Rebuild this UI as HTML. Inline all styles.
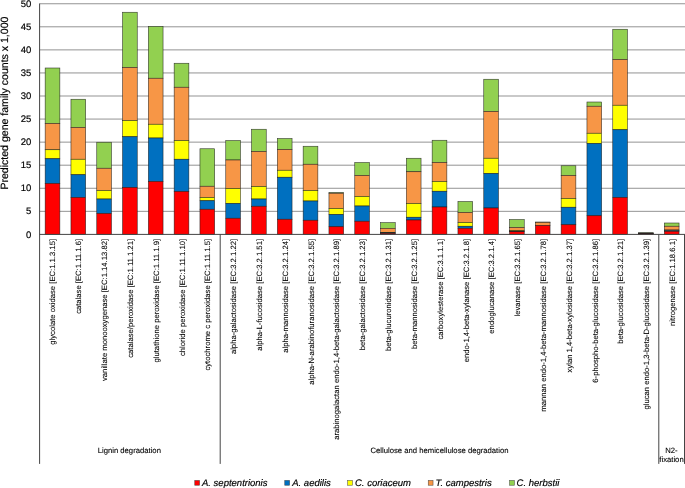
<!DOCTYPE html>
<html lang="en"><head><meta charset="utf-8"><title>Predicted gene family counts</title>
<style>html,body{margin:0;padding:0;background:#fff;}body{width:685px;height:488px;overflow:hidden;}svg{display:block;}text{text-rendering:geometricPrecision;stroke:#000;stroke-width:0.18px;font-family:"Liberation Sans",Arial,sans-serif;fill:#000;}.lab{font-size:7.68px;stroke-width:0.08px;}.tick{font-size:9.5px;}.leg{font-size:9.5px;font-style:italic;}.grp{font-size:7.7px;stroke-width:0.1px;}.ttl{font-size:10.56px;}</style></head><body>
<svg width="685" height="488" viewBox="0 0 685 488">
<rect width="685" height="488" fill="#fff"/>
<g stroke="#939393" stroke-width="1">
<line x1="39.6" x2="685" y1="211.34" y2="211.34"/>
<line x1="39.6" x2="685" y1="188.27" y2="188.27"/>
<line x1="39.6" x2="685" y1="165.20" y2="165.20"/>
<line x1="39.6" x2="685" y1="142.14" y2="142.14"/>
<line x1="39.6" x2="685" y1="119.07" y2="119.07"/>
<line x1="39.6" x2="685" y1="96.01" y2="96.01"/>
<line x1="39.6" x2="685" y1="72.94" y2="72.94"/>
<line x1="39.6" x2="685" y1="49.88" y2="49.88"/>
<line x1="39.6" x2="685" y1="26.81" y2="26.81"/>
<line x1="39.6" x2="685" y1="3.75" y2="3.75"/>
</g>
<g stroke="#1a1a1a" stroke-width="0.6" stroke-opacity="0.85">
<rect x="45.15" y="68.00" width="14.7" height="55.50" fill="#92D050"/>
<rect x="45.15" y="123.50" width="14.7" height="26.25" fill="#F79646"/>
<rect x="45.15" y="149.75" width="14.7" height="9.00" fill="#FFFF00"/>
<rect x="45.15" y="158.75" width="14.7" height="24.75" fill="#0070C0"/>
<rect x="45.15" y="183.50" width="14.7" height="50.90" fill="#FF0000"/>
<rect x="70.95" y="99.25" width="14.7" height="28.25" fill="#92D050"/>
<rect x="70.95" y="127.50" width="14.7" height="31.75" fill="#F79646"/>
<rect x="70.95" y="159.25" width="14.7" height="15.50" fill="#FFFF00"/>
<rect x="70.95" y="174.75" width="14.7" height="22.75" fill="#0070C0"/>
<rect x="70.95" y="197.50" width="14.7" height="36.90" fill="#FF0000"/>
<rect x="96.75" y="142.25" width="14.7" height="26.00" fill="#92D050"/>
<rect x="96.75" y="168.25" width="14.7" height="22.25" fill="#F79646"/>
<rect x="96.75" y="190.50" width="14.7" height="8.50" fill="#FFFF00"/>
<rect x="96.75" y="199.00" width="14.7" height="14.50" fill="#0070C0"/>
<rect x="96.75" y="213.50" width="14.7" height="20.90" fill="#FF0000"/>
<rect x="122.55" y="12.25" width="14.7" height="55.25" fill="#92D050"/>
<rect x="122.55" y="67.50" width="14.7" height="53.00" fill="#F79646"/>
<rect x="122.55" y="120.50" width="14.7" height="16.25" fill="#FFFF00"/>
<rect x="122.55" y="136.75" width="14.7" height="50.75" fill="#0070C0"/>
<rect x="122.55" y="187.50" width="14.7" height="46.90" fill="#FF0000"/>
<rect x="148.35" y="26.40" width="14.7" height="51.85" fill="#92D050"/>
<rect x="148.35" y="78.25" width="14.7" height="46.00" fill="#F79646"/>
<rect x="148.35" y="124.25" width="14.7" height="13.75" fill="#FFFF00"/>
<rect x="148.35" y="138.00" width="14.7" height="43.50" fill="#0070C0"/>
<rect x="148.35" y="181.50" width="14.7" height="52.90" fill="#FF0000"/>
<rect x="174.15" y="63.25" width="14.7" height="24.00" fill="#92D050"/>
<rect x="174.15" y="87.25" width="14.7" height="53.25" fill="#F79646"/>
<rect x="174.15" y="140.50" width="14.7" height="18.75" fill="#FFFF00"/>
<rect x="174.15" y="159.25" width="14.7" height="32.25" fill="#0070C0"/>
<rect x="174.15" y="191.50" width="14.7" height="42.90" fill="#FF0000"/>
<rect x="199.95" y="148.75" width="14.7" height="37.50" fill="#92D050"/>
<rect x="199.95" y="186.25" width="14.7" height="11.25" fill="#F79646"/>
<rect x="199.95" y="197.50" width="14.7" height="3.25" fill="#FFFF00"/>
<rect x="199.95" y="200.75" width="14.7" height="8.50" fill="#0070C0"/>
<rect x="199.95" y="209.25" width="14.7" height="25.15" fill="#FF0000"/>
<rect x="225.75" y="140.50" width="14.7" height="19.50" fill="#92D050"/>
<rect x="225.75" y="160.00" width="14.7" height="28.50" fill="#F79646"/>
<rect x="225.75" y="188.50" width="14.7" height="15.00" fill="#FFFF00"/>
<rect x="225.75" y="203.50" width="14.7" height="14.75" fill="#0070C0"/>
<rect x="225.75" y="218.25" width="14.7" height="16.15" fill="#FF0000"/>
<rect x="251.55" y="129.25" width="14.7" height="22.25" fill="#92D050"/>
<rect x="251.55" y="151.50" width="14.7" height="35.00" fill="#F79646"/>
<rect x="251.55" y="186.50" width="14.7" height="12.50" fill="#FFFF00"/>
<rect x="251.55" y="199.00" width="14.7" height="7.25" fill="#0070C0"/>
<rect x="251.55" y="206.25" width="14.7" height="28.15" fill="#FF0000"/>
<rect x="277.35" y="138.50" width="14.7" height="11.00" fill="#92D050"/>
<rect x="277.35" y="149.50" width="14.7" height="20.75" fill="#F79646"/>
<rect x="277.35" y="170.25" width="14.7" height="7.00" fill="#FFFF00"/>
<rect x="277.35" y="177.25" width="14.7" height="42.00" fill="#0070C0"/>
<rect x="277.35" y="219.25" width="14.7" height="15.15" fill="#FF0000"/>
<rect x="303.15" y="146.25" width="14.7" height="18.00" fill="#92D050"/>
<rect x="303.15" y="164.25" width="14.7" height="26.25" fill="#F79646"/>
<rect x="303.15" y="190.50" width="14.7" height="10.50" fill="#FFFF00"/>
<rect x="303.15" y="201.00" width="14.7" height="19.25" fill="#0070C0"/>
<rect x="303.15" y="220.25" width="14.7" height="14.15" fill="#FF0000"/>
<rect x="328.95" y="192.50" width="14.7" height="0.75" fill="#92D050"/>
<rect x="328.95" y="193.25" width="14.7" height="15.25" fill="#F79646"/>
<rect x="328.95" y="208.50" width="14.7" height="6.00" fill="#FFFF00"/>
<rect x="328.95" y="214.50" width="14.7" height="12.25" fill="#0070C0"/>
<rect x="328.95" y="226.75" width="14.7" height="7.65" fill="#FF0000"/>
<rect x="354.75" y="162.50" width="14.7" height="13.00" fill="#92D050"/>
<rect x="354.75" y="175.50" width="14.7" height="21.00" fill="#F79646"/>
<rect x="354.75" y="196.50" width="14.7" height="9.50" fill="#FFFF00"/>
<rect x="354.75" y="206.00" width="14.7" height="15.25" fill="#0070C0"/>
<rect x="354.75" y="221.25" width="14.7" height="13.15" fill="#FF0000"/>
<rect x="380.55" y="222.60" width="14.7" height="5.70" fill="#92D050"/>
<rect x="380.55" y="228.30" width="14.7" height="4.10" fill="#F79646"/>
<rect x="380.55" y="232.40" width="14.7" height="0.50" fill="#FFFF00"/>
<rect x="380.55" y="232.90" width="14.7" height="0.50" fill="#0070C0"/>
<rect x="380.55" y="233.40" width="14.7" height="1.00" fill="#FF0000"/>
<rect x="406.35" y="158.25" width="14.7" height="13.50" fill="#92D050"/>
<rect x="406.35" y="171.75" width="14.7" height="31.75" fill="#F79646"/>
<rect x="406.35" y="203.50" width="14.7" height="13.75" fill="#FFFF00"/>
<rect x="406.35" y="217.25" width="14.7" height="2.75" fill="#0070C0"/>
<rect x="406.35" y="220.00" width="14.7" height="14.40" fill="#FF0000"/>
<rect x="432.15" y="140.25" width="14.7" height="22.25" fill="#92D050"/>
<rect x="432.15" y="162.50" width="14.7" height="19.00" fill="#F79646"/>
<rect x="432.15" y="181.50" width="14.7" height="9.75" fill="#FFFF00"/>
<rect x="432.15" y="191.25" width="14.7" height="15.75" fill="#0070C0"/>
<rect x="432.15" y="207.00" width="14.7" height="27.40" fill="#FF0000"/>
<rect x="457.95" y="201.50" width="14.7" height="11.00" fill="#92D050"/>
<rect x="457.95" y="212.50" width="14.7" height="10.00" fill="#F79646"/>
<rect x="457.95" y="222.50" width="14.7" height="3.75" fill="#FFFF00"/>
<rect x="457.95" y="226.25" width="14.7" height="2.00" fill="#0070C0"/>
<rect x="457.95" y="228.25" width="14.7" height="6.15" fill="#FF0000"/>
<rect x="483.75" y="79.25" width="14.7" height="32.25" fill="#92D050"/>
<rect x="483.75" y="111.50" width="14.7" height="46.75" fill="#F79646"/>
<rect x="483.75" y="158.25" width="14.7" height="15.25" fill="#FFFF00"/>
<rect x="483.75" y="173.50" width="14.7" height="34.50" fill="#0070C0"/>
<rect x="483.75" y="208.00" width="14.7" height="26.40" fill="#FF0000"/>
<rect x="509.55" y="219.50" width="14.7" height="8.00" fill="#92D050"/>
<rect x="509.55" y="227.50" width="14.7" height="3.00" fill="#F79646"/>
<rect x="509.55" y="230.50" width="14.7" height="0.70" fill="#FFFF00"/>
<rect x="509.55" y="231.20" width="14.7" height="0.55" fill="#0070C0"/>
<rect x="509.55" y="231.75" width="14.7" height="2.65" fill="#FF0000"/>
<rect x="535.35" y="222.00" width="14.7" height="0.40" fill="#92D050"/>
<rect x="535.35" y="222.40" width="14.7" height="3.10" fill="#F79646"/>
<rect x="535.35" y="225.50" width="14.7" height="8.90" fill="#FF0000"/>
<rect x="561.15" y="165.75" width="14.7" height="9.75" fill="#92D050"/>
<rect x="561.15" y="175.50" width="14.7" height="23.00" fill="#F79646"/>
<rect x="561.15" y="198.50" width="14.7" height="8.75" fill="#FFFF00"/>
<rect x="561.15" y="207.25" width="14.7" height="17.50" fill="#0070C0"/>
<rect x="561.15" y="224.75" width="14.7" height="9.65" fill="#FF0000"/>
<rect x="586.95" y="102.00" width="14.7" height="4.25" fill="#92D050"/>
<rect x="586.95" y="106.25" width="14.7" height="27.00" fill="#F79646"/>
<rect x="586.95" y="133.25" width="14.7" height="10.25" fill="#FFFF00"/>
<rect x="586.95" y="143.50" width="14.7" height="72.25" fill="#0070C0"/>
<rect x="586.95" y="215.75" width="14.7" height="18.65" fill="#FF0000"/>
<rect x="612.75" y="29.25" width="14.7" height="30.25" fill="#92D050"/>
<rect x="612.75" y="59.50" width="14.7" height="45.75" fill="#F79646"/>
<rect x="612.75" y="105.25" width="14.7" height="24.50" fill="#FFFF00"/>
<rect x="612.75" y="129.75" width="14.7" height="67.75" fill="#0070C0"/>
<rect x="612.75" y="197.50" width="14.7" height="36.90" fill="#FF0000"/>
<rect x="638.55" y="232.75" width="14.7" height="0.25" fill="#92D050"/>
<rect x="638.55" y="233.00" width="14.7" height="0.30" fill="#F79646"/>
<rect x="638.55" y="233.30" width="14.7" height="0.30" fill="#FFFF00"/>
<rect x="638.55" y="233.60" width="14.7" height="0.30" fill="#0070C0"/>
<rect x="638.55" y="233.90" width="14.7" height="0.50" fill="#FF0000"/>
<rect x="664.35" y="223.00" width="14.7" height="3.25" fill="#92D050"/>
<rect x="664.35" y="226.25" width="14.7" height="3.75" fill="#F79646"/>
<rect x="664.35" y="230.00" width="14.7" height="0.50" fill="#FFFF00"/>
<rect x="664.35" y="230.50" width="14.7" height="0.80" fill="#0070C0"/>
<rect x="664.35" y="231.30" width="14.7" height="3.10" fill="#FF0000"/>
</g>
<g stroke="#444" stroke-width="1" fill="none">
<line x1="39.6" x2="39.6" y1="3.5" y2="463.9"/>
<line x1="39.6" x2="685" y1="234.4" y2="234.4"/>
<line x1="220.20" x2="220.20" y1="234.4" y2="463.9"/>
<line x1="658.80" x2="658.80" y1="234.4" y2="463.9"/>
<line x1="684.50" x2="684.50" y1="234.4" y2="463.9"/>
</g>
<text class="tick" x="31.3" y="237.55" text-anchor="end">0</text>
<text class="tick" x="31.3" y="214.49" text-anchor="end">5</text>
<text class="tick" x="31.3" y="191.42" text-anchor="end">10</text>
<text class="tick" x="31.3" y="168.35" text-anchor="end">15</text>
<text class="tick" x="31.3" y="145.29" text-anchor="end">20</text>
<text class="tick" x="31.3" y="122.22" text-anchor="end">25</text>
<text class="tick" x="31.3" y="99.16" text-anchor="end">30</text>
<text class="tick" x="31.3" y="76.09" text-anchor="end">35</text>
<text class="tick" x="31.3" y="53.03" text-anchor="end">40</text>
<text class="tick" x="31.3" y="29.96" text-anchor="end">45</text>
<text class="tick" x="31.3" y="6.90" text-anchor="end">50</text>
<text class="ttl" transform="translate(7.7,103.1) rotate(-90)" text-anchor="middle">Predicted gene family counts x 1,000</text>
<text class="lab" transform="translate(55.40,238.95) rotate(-90)" text-anchor="end">glycolate oxidase [EC:1.1.3.15]</text>
<text class="lab" transform="translate(81.22,238.95) rotate(-90)" text-anchor="end">catalase [EC:1.11.1.6]</text>
<text class="lab" transform="translate(107.04,238.95) rotate(-90)" text-anchor="end">vanillate monooxygenase [EC:1.14.13.82]</text>
<text class="lab" transform="translate(132.86,238.95) rotate(-90)" text-anchor="end">catalase/peroxidase [EC:1.11.1.21]</text>
<text class="lab" transform="translate(158.68,238.95) rotate(-90)" text-anchor="end">glutathione peroxidase [EC:1.11.1.9]</text>
<text class="lab" transform="translate(184.50,238.95) rotate(-90)" text-anchor="end">chloride peroxidase [EC:1.11.1.10]</text>
<text class="lab" transform="translate(210.33,238.95) rotate(-90)" text-anchor="end">cytochrome c peroxidase [EC:1.11.1.5]</text>
<text class="lab" transform="translate(236.15,238.95) rotate(-90)" text-anchor="end">alpha-galactosidase [EC:3.2.1.22]</text>
<text class="lab" transform="translate(261.97,238.95) rotate(-90)" text-anchor="end">alpha-L-fucosidase [EC:3.2.1.51]</text>
<text class="lab" transform="translate(287.79,238.95) rotate(-90)" text-anchor="end">alpha-mannosidase [EC:3.2.1.24]</text>
<text class="lab" transform="translate(313.61,238.95) rotate(-90)" text-anchor="end">alpha-N-arabinofuranosidase [EC:3.2.1.55]</text>
<text class="lab" transform="translate(339.43,238.95) rotate(-90)" text-anchor="end">arabinogalactan endo-1,4-beta-galactosidase [EC:3.2.1.89]</text>
<text class="lab" transform="translate(365.25,238.95) rotate(-90)" text-anchor="end">beta-galactosidase [EC:3.2.1.23]</text>
<text class="lab" transform="translate(391.07,238.95) rotate(-90)" text-anchor="end">beta-glucuronidase [EC:3.2.1.31]</text>
<text class="lab" transform="translate(416.89,238.95) rotate(-90)" text-anchor="end">beta-mannosidase [EC:3.2.1.25]</text>
<text class="lab" transform="translate(442.71,238.95) rotate(-90)" text-anchor="end">carboxylesterase [EC:3.1.1.1]</text>
<text class="lab" transform="translate(468.53,238.95) rotate(-90)" text-anchor="end">endo-1,4-beta-xylanase [EC:3.2.1.8]</text>
<text class="lab" transform="translate(494.35,238.95) rotate(-90)" text-anchor="end">endoglucanase [EC:3.2.1.4]</text>
<text class="lab" transform="translate(520.18,238.95) rotate(-90)" text-anchor="end">levanase [EC:3.2.1.65]</text>
<text class="lab" transform="translate(546.00,238.95) rotate(-90)" text-anchor="end">mannan endo-1,4-beta-mannosidase [EC:3.2.1.78]</text>
<text class="lab" transform="translate(571.82,238.95) rotate(-90)" text-anchor="end">xylan 1,4-beta-xylosidase [EC:3.2.1.37]</text>
<text class="lab" transform="translate(597.64,238.95) rotate(-90)" text-anchor="end">6-phospho-beta-glucosidase [EC:3.2.1.86]</text>
<text class="lab" transform="translate(623.46,238.95) rotate(-90)" text-anchor="end">beta-glucosidase [EC:3.2.1.21]</text>
<text class="lab" transform="translate(649.28,238.95) rotate(-90)" text-anchor="end">glucan endo-1,3-beta-D-glucosidase [EC:3.2.1.39]</text>
<text class="lab" transform="translate(675.10,238.95) rotate(-90)" text-anchor="end">nitrogenase [EC:1.18.6.1]</text>
<text class="grp" x="129.3" y="452.5" text-anchor="middle">Lignin degradation</text>
<text class="grp" x="439.5" y="452.7" text-anchor="middle">Cellulose and hemicellulose degradation</text>
<text class="grp" x="671.5" y="453.3" text-anchor="middle">N2-</text>
<text class="grp" x="671.5" y="461.5" text-anchor="middle">fixation</text>
<rect x="194.75" y="480.45" width="4.8" height="4.8" fill="#FF0000" stroke="#222" stroke-width="0.6" stroke-opacity="0.7"/>
<text class="leg" x="202" y="486.3">A. septentrionis</text>
<rect x="284.75" y="480.45" width="4.8" height="4.8" fill="#0070C0" stroke="#222" stroke-width="0.6" stroke-opacity="0.7"/>
<text class="leg" x="292.25" y="486.3">A. aedilis</text>
<rect x="347.65" y="480.45" width="4.8" height="4.8" fill="#FFFF00" stroke="#222" stroke-width="0.6" stroke-opacity="0.7"/>
<text class="leg" x="355" y="486.3">C. coriaceum</text>
<rect x="428.25" y="480.45" width="4.8" height="4.8" fill="#F79646" stroke="#222" stroke-width="0.6" stroke-opacity="0.7"/>
<text class="leg" x="435.5" y="486.3">T. campestris</text>
<rect x="509.55" y="480.45" width="4.8" height="4.8" fill="#92D050" stroke="#222" stroke-width="0.6" stroke-opacity="0.7"/>
<text class="leg" x="516.6" y="486.3">C. herbstii</text>
</svg></body></html>
